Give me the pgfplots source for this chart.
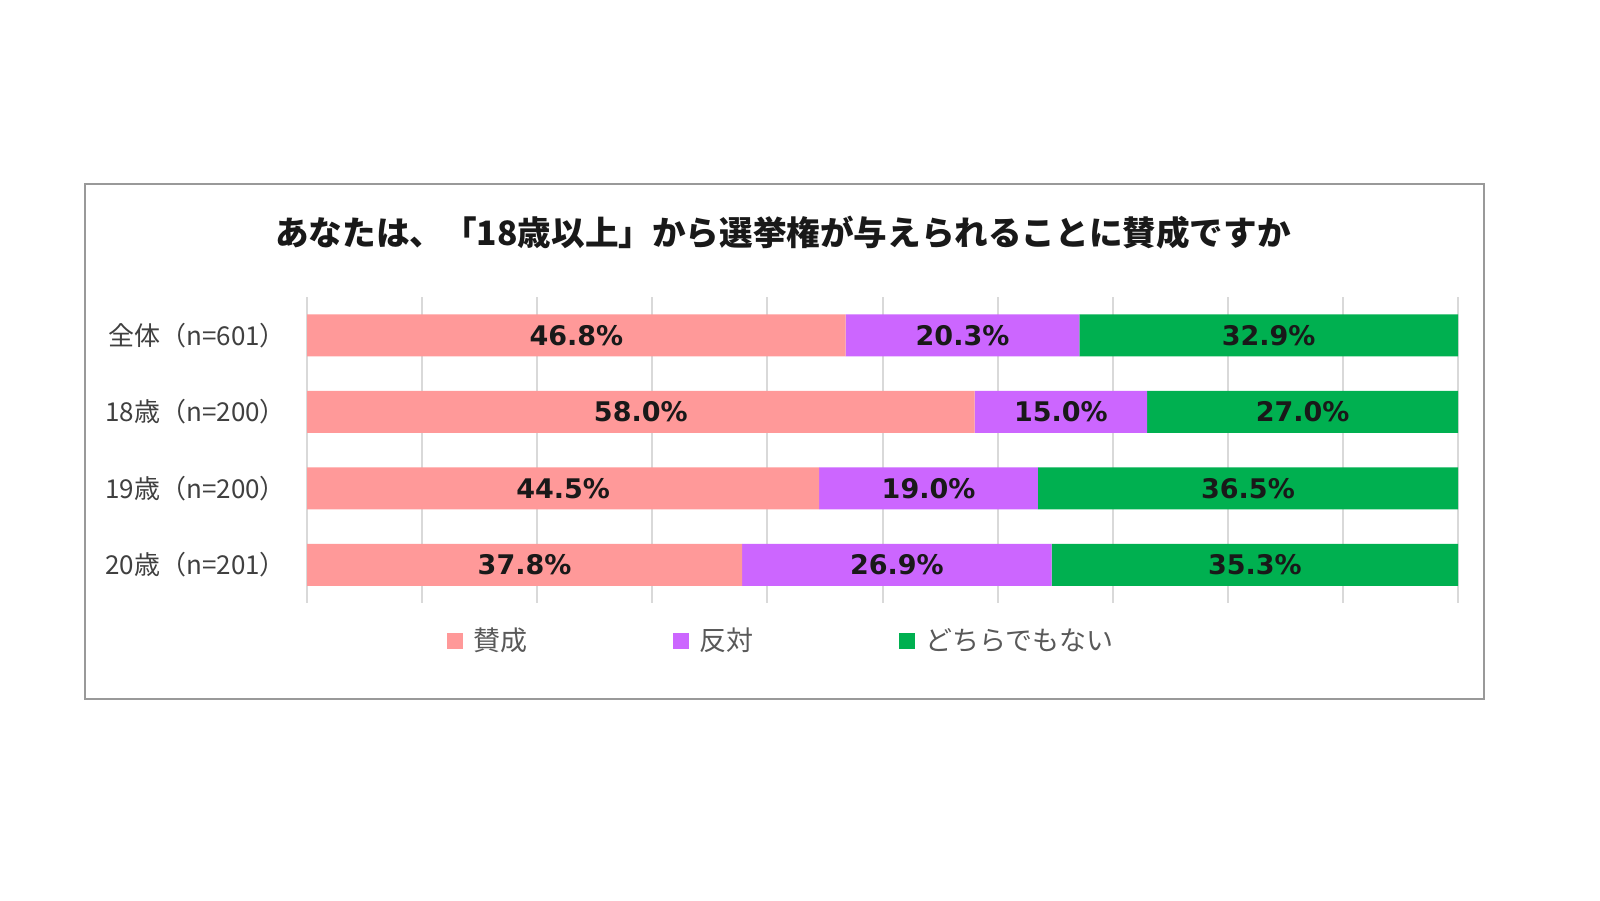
\documentclass[border=0pt]{standalone}
\usepackage{pgfplots}
\pgfplotsset{compat=1.18}
\usepackage{fontspec}
\setmainfont{Noto Sans CJK JP}
\newfontfamily\numfont{DejaVu Sans}
\definecolor{sansei}{HTML}{FF9999}
\definecolor{hantai}{HTML}{CC66FF}
\definecolor{dochira}{HTML}{00B050}
\definecolor{framegray}{HTML}{999999}
\definecolor{gridgray}{HTML}{D9D9D9}
\definecolor{labgray}{HTML}{404040}
\definecolor{leggray}{HTML}{595959}

% rows: 1 = 全体, 2 = 18歳, 3 = 19歳, 4 = 20歳
\pgfplotstableread{
row sansei hantai dochira
1 46.8 20.3 32.9
2 58.0 15.0 27.0
3 44.5 19.0 36.5
4 37.8 26.9 35.3
}\shares
% segment centres for the value labels
\pgfplotstableread{
x y label
23.4 1 46.8\%
56.95 1 20.3\%
83.55 1 32.9\%
29.0 2 58.0\%
65.5 2 15.0\%
86.5 2 27.0\%
22.25 3 44.5\%
54.0 3 19.0\%
81.75 3 36.5\%
18.9 4 37.8\%
51.25 4 26.9\%
82.35 4 35.3\%
}\labels

\begin{document}
\begin{tikzpicture}
\useasboundingbox (0,0) rectangle (800pt,450pt);
\fill[white] (0,0) rectangle (800pt,450pt);
\draw[framegray, line width=1pt] (42.5pt,100.5pt) rectangle (742pt,358pt);

\pgfplotsset{barframe/.style={
  scale only axis, width=575.5pt, height=153pt,
  at={(153.5pt,148.5pt)}, anchor=south west,
  xmin=0, xmax=100, ymin=0.5, ymax=4.5, y dir=reverse}}

\begin{axis}[
  barframe,
  xbar stacked, bar width=21pt,
  axis line style={draw=none},
  xtick={0,10,...,100}, xticklabels={},
  major tick length=0pt,
  xmajorgrids, grid style={gridgray, line width=1pt},
  ytick={1,2,3,4},
  yticklabels={全体（n=601）,18歳（n=200）,19歳（n=200）,20歳（n=201）},
  yticklabel style={font=\fontsize{13}{15}\selectfont, text=labgray, xshift=-7pt},
  title={あなたは、「18歳以上」から選挙権が与えられることに賛成ですか},
  title style={at={(0.4136,1.17)}, anchor=center,
    font=\fontsize{16.8}{19}\selectfont\bfseries, text=black!90},
  legend style={at={(0.413,-0.124)}, anchor=center, draw=none, fill=none,
    legend columns=3, font=\fontsize{13.5}{15}\selectfont, text=leggray,
    /tikz/every odd column/.append style={column sep=3pt},
    /tikz/every even column/.append style={column sep=71pt}},
  legend image code/.code={\fill[#1, draw=none] (0pt,-4pt) rectangle (8pt,4pt);},
]
\addplot[fill=sansei, draw=none] table[x=sansei, y=row] {\shares};
\addplot[fill=hantai, draw=none] table[x=hantai, y=row] {\shares};
\addplot[fill=dochira, draw=none] table[x=dochira, y=row] {\shares};
\legend{賛成,反対,どちらでもない}
\end{axis}

\begin{axis}[barframe, hide axis]
\addplot[draw=none, mark=none, nodes near coords, point meta=explicit symbolic,
  nodes near coords style={anchor=center, text=black!90,
    font=\numfont\bfseries\fontsize{13.5}{15}\selectfont}]
  table[x=x, y=y, meta=label] {\labels};
\end{axis}
\end{tikzpicture}
\end{document}
